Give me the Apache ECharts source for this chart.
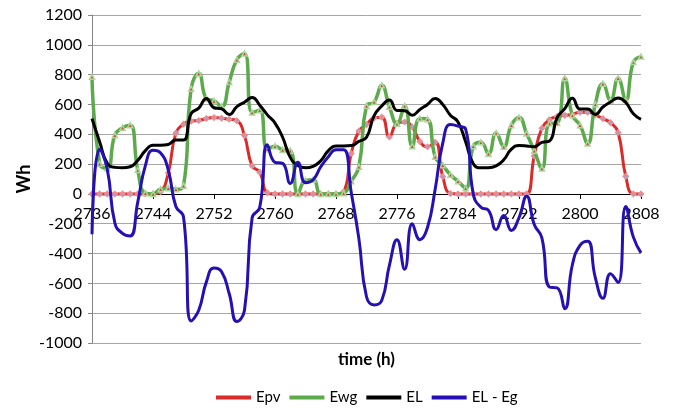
<!DOCTYPE html>
<html>
<head>
<meta charset="utf-8">
<script src="https://cdn.jsdelivr.net/npm/echarts@6/dist/echarts.min.js"></script>
<style>
  html, body { margin: 0; padding: 0; background: #fff; }
  #chart { width: 690px; height: 408px; }
</style>
</head>
<body>
<div id="chart"></div>
<script>
// Hourly energy balance, hours 2736 .. 2808
const hours = [];
for (let h = 2736; h <= 2808; h++) hours.push(String(h));

// PV energy (Wh)
const epv = [
  0, 0, 0, 0, 0, 0, 0, 0, 0, 15,
  140, 408, 468, 488, 492, 506, 512, 508, 501, 491,
  391, 188, 146, 7, 0, 0, 0, 0, 0, 0,
  0, 0, 0, 15, 271, 422, 465, 510, 515, 382,
  473, 482, 449, 352, 316, 347, 116, 3, 0, 0,
  0, 0, 0, 0, 0, 0, 0, 0, 255, 440,
  498, 519, 527, 533, 548, 548, 530, 505, 478, 412,
  118, 0, 0
];

// Wind generator energy (Wh)
const ewg = [
  785, 203, 172, 394, 444, 461, 160, 5, 0, 32,
  38, 31, 55, 706, 808, 639, 624, 586, 750, 900,
  942, 546, 561, 300, 320, 295, 290, 0, 90, 95,
  0, 0, 0, 5, 85, 183, 590, 617, 728, 585,
  470, 590, 320, 505, 500, 250, 192, 128, 85, 38,
  320, 346, 270, 408, 317, 461, 512, 405, 290, 171,
  472, 476, 775, 527, 461, 338, 602, 739, 626, 776,
  630, 884, 921
];

// Load energy (Wh)
const el = [
  505, 350, 205, 178, 175, 182, 225, 290, 327, 327,
  332, 361, 361, 538, 575, 640, 578, 570, 532, 585,
  615, 646, 595, 530, 475, 380, 245, 190, 175, 185,
  222, 290, 322, 322, 324, 352, 380, 525, 590, 630,
  560, 558, 528, 566, 600, 640, 600, 528, 483, 350,
  203, 175, 175, 188, 229, 300, 325, 322, 316, 346,
  355, 511, 572, 641, 569, 569, 533, 583, 616, 643,
  613, 537, 500
];

// Load minus generation (Wh)
const elMinusEg = [
  -270, 300, 165, -195, -265, -282, -55, 190, 292, 275,
  160, -85, -155, -852, -780, -590, -497, -522, -670, -856,
  -780, -160, -90, 330, 212, 205, 70, 212, 75, 95,
  182, 250, 297, 297, 10, -300, -690, -745, -715, -480,
  -307, -505, -200, -307, -225, 30, 340, 465, 455, 435,
  0, -90, -110, -240, -145, -245, -160, -15, -205, -295,
  -625, -630, -770, -475, -345, -318, -560, -700, -535, -595,
  -85, -290, -395
];

const FONT = 'Lato, "Open Sans", sans-serif';

// Series colours
const C_EPV = '#DA2A2A';
const C_EWG = '#5DAA4C';
const C_EL = '#000000';
const C_DIFF = '#2410B4';

// Value range of the vertical axis
const Y_MIN = -1000;
const Y_MAX = 1200;
const GRID_TOP = 15;
const GRID_BOTTOM = 65;
const CHART_H = 408;

// The horizontal axis crosses the vertical one at zero: shift it up from the
// grid bottom by the pixel distance between Y_MIN and 0.
const plotH = CHART_H - GRID_TOP - GRID_BOTTOM;
const zeroShift = plotH * (0 - Y_MIN) / (Y_MAX - Y_MIN);

const chart = echarts.init(document.getElementById('chart'), null, { renderer: 'canvas' });

chart.setOption({
  animation: false,
  backgroundColor: '#ffffff',
  textStyle: { fontFamily: FONT },
  grid: { left: 92, right: 49, top: GRID_TOP, bottom: GRID_BOTTOM, containLabel: false, outerBoundsMode: 'none' },
  legend: {
    top: 385,
    left: 211,
    icon: 'rect',
    itemWidth: 35,
    itemHeight: 4,
    itemGap: 9,
    textStyle: { fontFamily: FONT, fontSize: 15, color: '#000' },
    data: [
      { name: 'Epv', itemStyle: { color: C_EPV, borderWidth: 0 } },
      { name: 'Ewg', itemStyle: { color: C_EWG, borderWidth: 0 } },
      { name: 'EL', itemStyle: { color: C_EL, borderWidth: 0 } },
      { name: 'EL - Eg', itemStyle: { color: C_DIFF, borderWidth: 0 } }
    ]
  },
  xAxis: {
    type: 'category',
    data: hours,
    boundaryGap: false,
    offset: -zeroShift,
    name: 'time (h)',
    nameLocation: 'middle',
    nameGap: 157,
    nameTextStyle: { fontFamily: FONT, fontSize: 17, fontWeight: 'bold', color: '#000' },
    axisLine: { onZero: false, lineStyle: { color: '#000', width: 1 } },
    axisTick: { show: true, interval: 7, length: 5, inside: false, lineStyle: { color: '#000' } },
    axisLabel: { interval: 7, margin: 12, fontFamily: FONT, fontSize: 16, color: '#000' },
    splitLine: { show: false }
  },
  yAxis: {
    type: 'value',
    min: Y_MIN,
    max: Y_MAX,
    interval: 200,
    name: 'Wh',
    nameLocation: 'middle',
    nameGap: 59,
    nameMoveOverlap: false,
    nameRotate: 90,
    nameTextStyle: { fontFamily: FONT, fontSize: 18, fontWeight: 'bold', color: '#000' },
    axisLine: { show: true, lineStyle: { color: '#868686', width: 1 } },
    axisTick: { show: true, length: 4, lineStyle: { color: '#868686' } },
    axisLabel: {
      margin: 10, fontFamily: FONT, fontSize: 16, color: '#000',
      formatter: (v) => String(v)
    },
    splitLine: { show: true, lineStyle: { color: '#A6A6A6', width: 1 } }
  },
  series: [
    {
      name: 'Epv',
      type: 'line',
      data: epv,
      smooth: 0.5,
      symbol: 'diamond',
      symbolSize: 5,
      showSymbol: true,
      showAllSymbol: true,
      lineStyle: { color: C_EPV, width: 3 },
      itemStyle: { color: '#8FA6E6', borderColor: '#F28A8A', borderWidth: 1.5 },
      z: 2
    },
    {
      name: 'Ewg',
      type: 'line',
      data: ewg,
      smooth: 0.5,
      symbol: 'triangle',
      symbolSize: 5,
      showSymbol: true,
      showAllSymbol: true,
      lineStyle: { color: C_EWG, width: 3.5 },
      itemStyle: { color: '#D94040', borderColor: '#A8D89A', borderWidth: 1.5 },
      z: 3
    },
    {
      name: 'EL',
      type: 'line',
      data: el,
      smooth: 0.5,
      showSymbol: false,
      lineStyle: { color: C_EL, width: 3 },
      itemStyle: { color: C_EL },
      z: 4
    },
    {
      name: 'EL - Eg',
      type: 'line',
      data: elMinusEg,
      smooth: 0.5,
      showSymbol: false,
      lineStyle: { color: C_DIFF, width: 3 },
      itemStyle: { color: C_DIFF },
      z: 5
    }
  ]
});
</script>
</body>
</html>
